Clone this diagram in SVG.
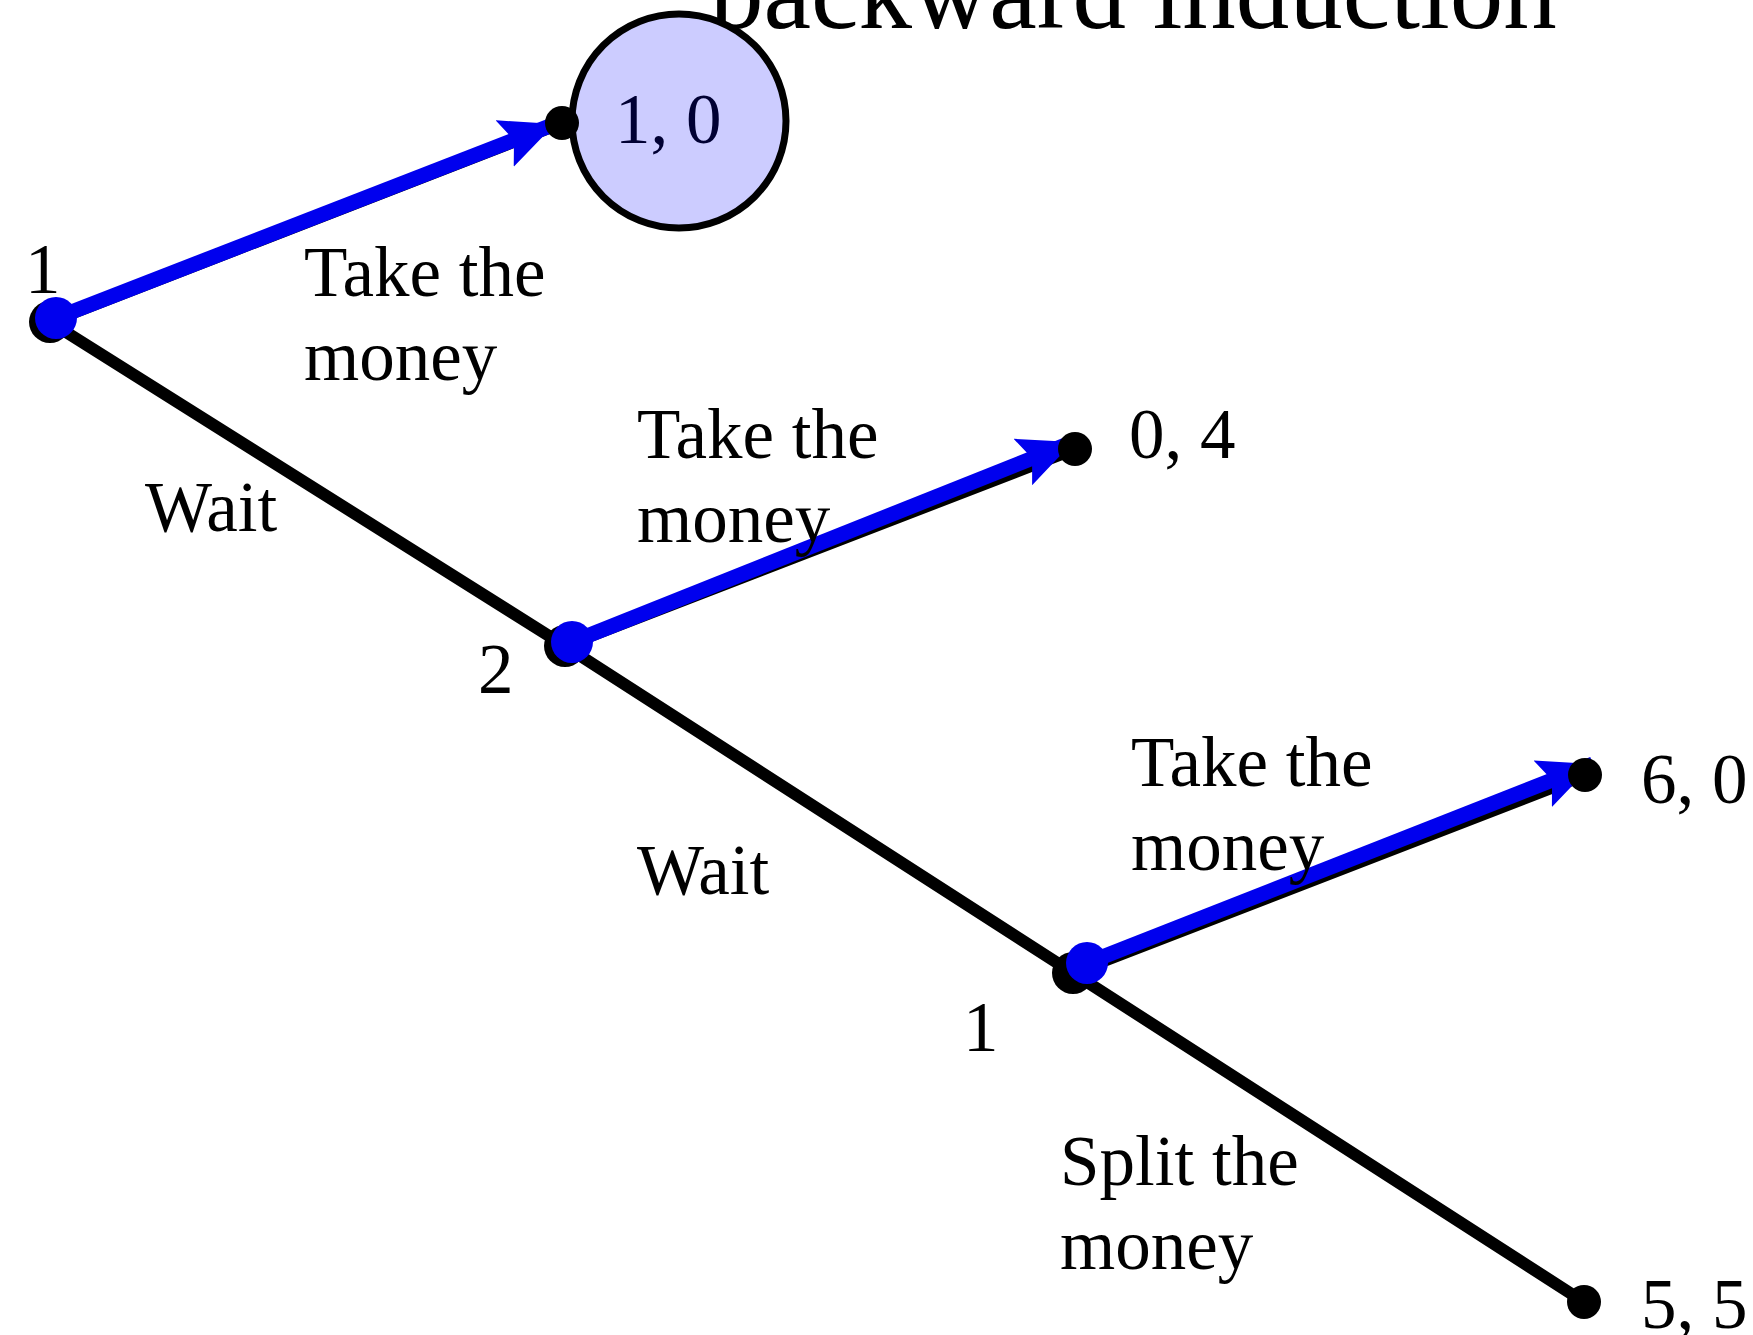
<svg xmlns="http://www.w3.org/2000/svg" width="1753" height="1335" viewBox="0 0 1753 1335">
<style>
text{font-family:"Liberation Serif","Times New Roman",serif;fill:#000}
.lbl{font-size:71px}
.title{font-size:107px}
.edge{stroke:#000;stroke-width:12;fill:none;stroke-linecap:round}
.best{stroke:#0000ee;stroke-width:15;fill:none}
.dot{fill:#000}
.bdot{fill:#0000ee}
</style>
<defs>
<marker id="ah" markerUnits="userSpaceOnUse" markerWidth="56" markerHeight="50" viewBox="0 0 56 50" refX="54" refY="25" orient="auto">
<path d="M0,0 L54,25 L0,50 L10,25 Z" fill="#0000ee"/>
</marker>
</defs>
<rect width="1753" height="1335" fill="#fff"/>
<g id="title"><text class="title" x="710" y="28">backward induction</text></g>
<g id="connectors">
<line class="edge" x1="50" y1="322" x2="565" y2="646"/>
<line class="edge" x1="565" y1="646" x2="1073" y2="973"/>
<line class="edge" x1="1073" y1="973" x2="1584" y2="1302"/>
<line class="edge" x1="50" y1="322" x2="562" y2="123"/>
<line class="edge" x1="565" y1="646" x2="1075" y2="449"/>
<line class="edge" x1="1073" y1="973" x2="1585" y2="775"/>
<line class="best" x1="56" y1="318" x2="555" y2="124" marker-end="url(#ah)"/>
<line class="best" x1="572" y1="642" x2="1073" y2="442" marker-end="url(#ah)"/>
<line class="best" x1="1087" y1="963" x2="1593" y2="764" marker-end="url(#ah)"/>
</g>
<g id="leaf-1-0">
<circle cx="679" cy="121" r="107" fill="#ccccff" stroke="#000" stroke-width="7"/>
<circle class="dot" cx="562" cy="123" r="17"/>
<text class="lbl" x="615" y="143" style="fill:#000033">1, 0</text>
</g>
<g id="root">
<circle class="dot" cx="50" cy="322" r="21"/>
<circle class="bdot" cx="56" cy="318" r="21"/>
<text class="lbl" x="25" y="293">1</text>
</g>
<g id="node2">
<circle class="dot" cx="565" cy="646" r="21"/>
<circle class="bdot" cx="572" cy="642" r="21"/>
<text class="lbl" x="478" y="693">2</text>
</g>
<g id="node3">
<circle class="dot" cx="1073" cy="973" r="21"/>
<circle class="bdot" cx="1087" cy="963" r="21"/>
<text class="lbl" x="963" y="1051">1</text>
</g>
<g id="leaf-0-4">
<circle class="dot" cx="1075" cy="449" r="17"/>
<text class="lbl" x="1129" y="458">0, 4</text>
</g>
<g id="leaf-6-0">
<circle class="dot" cx="1585" cy="775" r="17"/>
<text class="lbl" x="1641" y="803">6, 0</text>
</g>
<g id="leaf-5-5">
<circle class="dot" cx="1584" cy="1302" r="17"/>
<text class="lbl" x="1641" y="1328">5, 5</text>
</g>
<g id="labels">
<text class="lbl" x="304" y="296">Take the</text>
<text class="lbl" x="304" y="380">money</text>
<text class="lbl" x="145" y="531">Wait</text>
<text class="lbl" x="637" y="458">Take the</text>
<text class="lbl" x="637" y="542">money</text>
<text class="lbl" x="637" y="894">Wait</text>
<text class="lbl" x="1131" y="786">Take the</text>
<text class="lbl" x="1131" y="870">money</text>
<text class="lbl" x="1060" y="1185">Split the</text>
<text class="lbl" x="1060" y="1269">money</text>
</g>
</svg>
